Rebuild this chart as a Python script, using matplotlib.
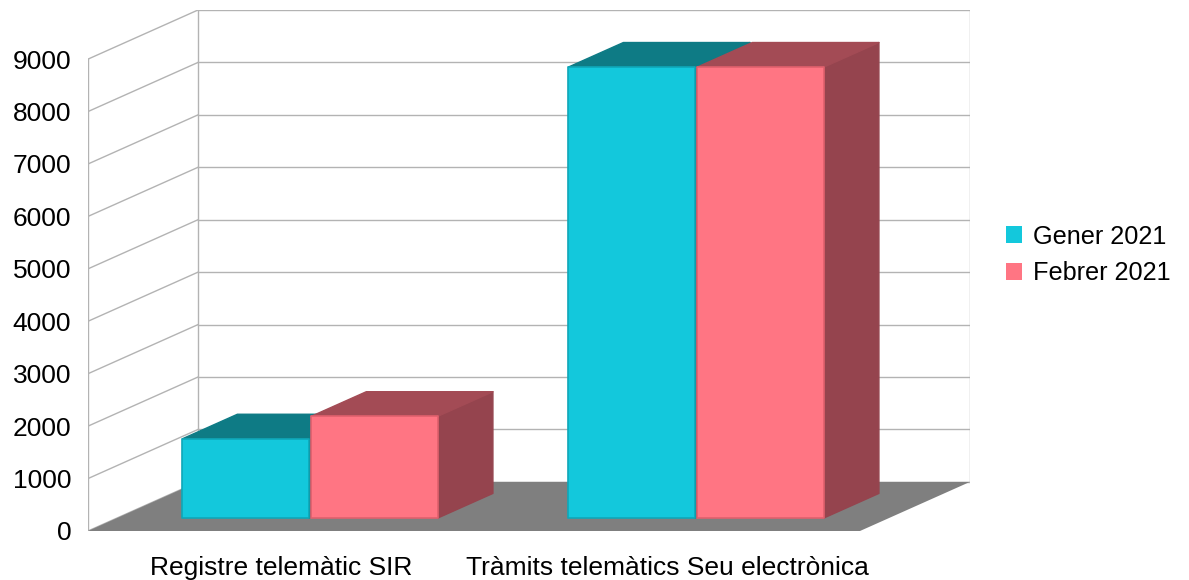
import matplotlib
matplotlib.use("Agg")
import matplotlib.pyplot as plt
from matplotlib.patches import Polygon, Patch

plt.rcParams['font.family'] = ['Liberation Sans', 'DejaVu Sans']

# Data
categories = ['Registre telemàtic SIR', 'Tràmits telemàtics Seu electrònica']
series = ['Gener 2021', 'Febrer 2021']
gener = [1510, 8600]
febrer = [1940, 8600]
yticks = list(range(0, 10000, 1000))

front_cols = ['#13c8dc', '#ff7583']
top_cols = ['#0e7b85', '#a34b55']
side_cols = ['#0b6a73', '#95444e']
edge_cols = ['#0fa7b8', '#e0606d']

# fake 3D: one unit of depth shifts by DX categories and DY values
DX = 0.285
DY = 937
d0, d1 = 0.265, 0.765
bw, gap = 0.328, 0.006
ymax = 9000


def proj(x, v, d):
    return (x + d * DX, v + d * DY)


fig = plt.figure(figsize=(11.89, 5.8), dpi=100)
ax = fig.add_axes([88 / 1189, 49 / 580, 882 / 1189, 521 / 580])
ax.set_xlim(0, 2 + DX)
ax.set_ylim(0, ymax + DY)
for s in ax.spines.values():
    s.set_visible(False)

grid = dict(color='#b3b3b3', lw=1, zorder=1)
# left wall + back wall
for v in yticks:
    (xa, ya), (xb, yb) = proj(0, v, 0), proj(0, v, 1)
    ax.plot([xa, xb], [ya, yb], **grid)
    ax.plot([xb, xb + 2], [yb, yb], **grid)
ax.plot([0, 0], [0, ymax], **grid)
ax.plot([DX, DX], [DY, ymax + DY], **grid)
ax.plot([2 + DX, 2 + DX], [DY, ymax + DY], **grid)

# floor
floor = [proj(0, 0, 0), proj(2, 0, 0), proj(2, 0, 1), proj(0, 0, 1)]
ax.add_patch(Polygon(floor, closed=True, fc='#7f7f7f', ec='none', zorder=2))

values = [gener, febrer]
z = 3
for i in range(len(categories)):
    left = i + 0.5 - bw - gap / 2
    for j in range(len(series)):
        x0 = left + j * (bw + gap)
        x1 = x0 + bw
        v = values[j][i]
        side = [proj(x1, 0, d0), proj(x1, 0, d1), proj(x1, v, d1), proj(x1, v, d0)]
        top = [proj(x0, v, d0), proj(x1, v, d0), proj(x1, v, d1), proj(x0, v, d1)]
        front = [proj(x0, 0, d0), proj(x1, 0, d0), proj(x1, v, d0), proj(x0, v, d0)]
        ax.add_patch(Polygon(side, closed=True, fc=side_cols[j], ec=side_cols[j],
                             lw=1, joinstyle='round', zorder=z))
        ax.add_patch(Polygon(top, closed=True, fc=top_cols[j], ec=top_cols[j],
                             lw=1, joinstyle='round', zorder=z))
        ax.add_patch(Polygon(front, closed=True, fc=front_cols[j], ec=edge_cols[j],
                             lw=1.2, joinstyle='round', zorder=z + 0.5))
        z += 1

ax.set_yticks(yticks)
ax.set_yticklabels([str(t) for t in yticks])
ax.set_xticks([0.5, 1.5])
ax.set_xticklabels(categories)
ax.tick_params(axis='y', length=0, pad=12, labelsize=19, labelcolor='black')
ax.tick_params(axis='x', length=0, pad=18, labelsize=19, labelcolor='black')

handles = [Patch(fc=front_cols[k], ec='none', label=series[k]) for k in range(2)]
fig.legend(handles=handles, loc='center left', bbox_to_anchor=(1006 / 1189, 1 - 255 / 580),
           frameon=False, fontsize=18.2, handlelength=0.65, handleheight=0.65,
           handletextpad=0.4, labelspacing=0.5, borderpad=0, borderaxespad=0)

fig.savefig('out.png', dpi=100)
